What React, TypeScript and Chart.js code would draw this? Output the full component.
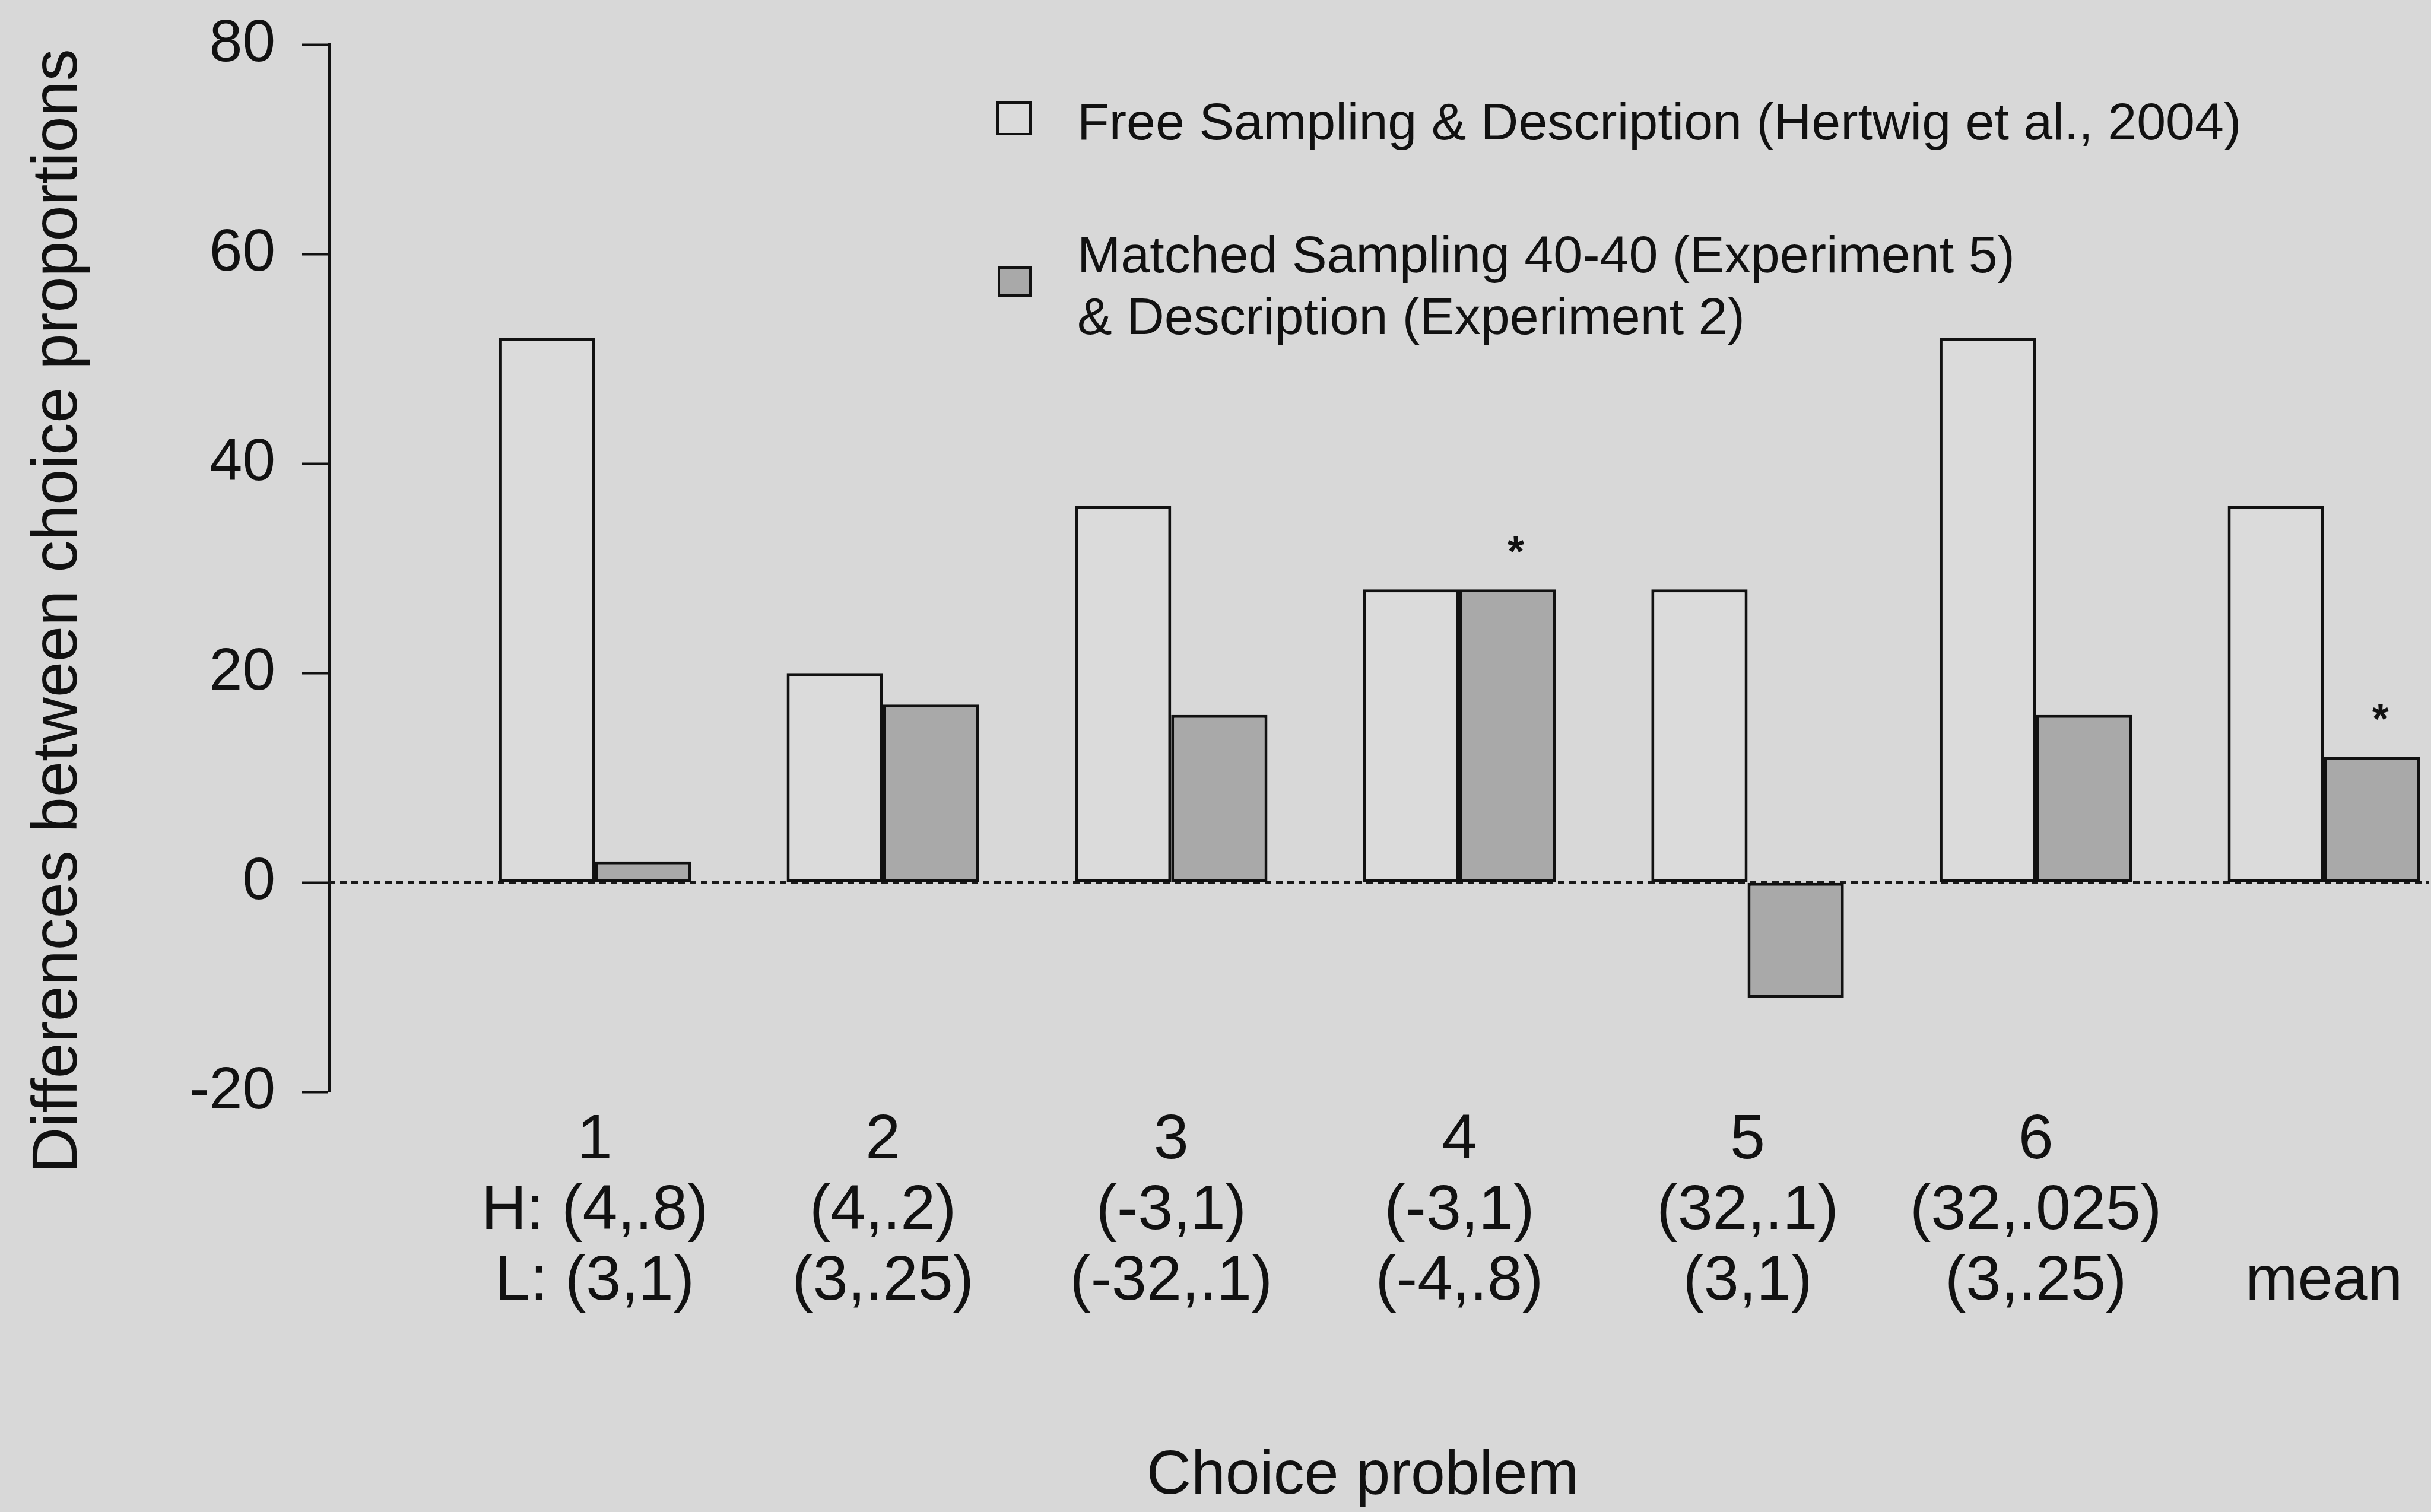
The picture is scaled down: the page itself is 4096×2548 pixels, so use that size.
import React, { useEffect, useRef } from 'react';
import { Chart, registerables } from 'chart.js';

Chart.register(...registerables);

// ---- data ----
const problemNumbers = ['1', '2', '3', '4', '5', '6', ''];
const optionH = ['H: (4,.8)', '(4,.2)', '(-3,1)', '(-3,1)', '(32,.1)', '(32,.025)', ''];
const optionL = ['L: (3,1)', '(3,.25)', '(-32,.1)', '(-4,.8)', '(3,1)', '(3,.25)', 'mean'];
const freeSampling = [52, 20, 36, 28, 28, 52, 36];
const matchedSampling = [2, 17, 16, 28, -11, 16, 12];
const significant = [false, false, false, true, false, false, true];
const yTickValues = [-20, 0, 20, 40, 60, 80];
const legendFree = ['Free Sampling & Description (Hertwig et al., 2004)'];
const legendMatched = ['Matched Sampling 40-40 (Experiment 5)', '& Description (Experiment 2)'];
const xTitle = 'Choice problem';
const yTitle = 'Differences between choice proportions';

// ---- styles ----
const W = 4096;
const H = 2548;
const BG = '#d8d8d8';
const WHITE_BAR = '#dbdbdb';
const GREY_BAR = '#a9a9a9';
const INK = '#111111';
const FONT = '"Liberation Sans", Arial, Helvetica, sans-serif';

const bgPlugin = {
  id: 'bgPlugin',
  beforeDraw(chart: any) {
    const { ctx, width, height } = chart;
    ctx.save();
    ctx.fillStyle = BG;
    ctx.fillRect(0, 0, width, height);
    ctx.restore();
  },
};

const zeroLinePlugin = {
  id: 'zeroLinePlugin',
  beforeDatasetsDraw(chart: any) {
    const { ctx, chartArea, scales } = chart;
    const y = scales.y.getPixelForValue(0);
    ctx.save();
    ctx.strokeStyle = '#1a1a1a';
    ctx.lineWidth = 5;
    ctx.setLineDash([11, 8]);
    ctx.beginPath();
    ctx.moveTo(chartArea.left, y);
    ctx.lineTo(chartArea.right, y);
    ctx.stroke();
    ctx.restore();
  },
};

const annotationsPlugin = {
  id: 'annotationsPlugin',
  afterDatasetsDraw(chart: any) {
    const { ctx } = chart;
    const meta = chart.getDatasetMeta(1);
    ctx.save();
    ctx.fillStyle = INK;
    ctx.font = `bold 72px ${FONT}`;
    ctx.textAlign = 'center';
    ctx.textBaseline = 'alphabetic';
    significant.forEach((sig, i) => {
      if (!sig) return;
      const el = meta.data[i];
      ctx.fillText('*', el.x + 14, el.y - 81 + 42);
    });
    ctx.restore();
  },
  afterDraw(chart: any) {
    const { ctx, chartArea } = chart;
    ctx.save();
    ctx.fillStyle = INK;
    // y title
    ctx.save();
    ctx.translate(129, (chartArea.top + chartArea.bottom) / 2 + 72);
    ctx.rotate(-Math.PI / 2);
    ctx.font = `108px ${FONT}`;
    ctx.textAlign = 'center';
    ctx.textBaseline = 'alphabetic';
    ctx.fillText(yTitle, 0, 0);
    ctx.restore();
    // x title
    ctx.font = `104px ${FONT}`;
    ctx.textAlign = 'center';
    ctx.textBaseline = 'alphabetic';
    ctx.fillText(xTitle, 2296, 2517);
    // legend
    ctx.lineWidth = 4;
    ctx.strokeStyle = INK;
    ctx.fillStyle = WHITE_BAR;
    ctx.fillRect(1681, 173, 55, 53);
    ctx.strokeRect(1681, 173, 55, 53);
    ctx.fillStyle = GREY_BAR;
    ctx.fillRect(1683, 451, 53, 47);
    ctx.strokeRect(1683, 451, 53, 47);
    ctx.fillStyle = INK;
    ctx.font = `88px ${FONT}`;
    ctx.textAlign = 'left';
    legendFree.forEach((t, i) => ctx.fillText(t, 1815, 235 + i * 104));
    legendMatched.forEach((t, i) => ctx.fillText(t, 1815, 459 + i * 104));
    ctx.restore();
  },
};

export default function App() {
  const ref = useRef<HTMLCanvasElement | null>(null);

  useEffect(() => {
    if (!ref.current) return;
    Chart.defaults.font.family = FONT;
    Chart.defaults.color = INK;
    const chart = new Chart(ref.current, {
      type: 'bar',
      data: {
        datasets: [
          {
            label: legendFree.join(' '),
            data: freeSampling.map((v, i) => ({ x: i + 1, y: v })),
            backgroundColor: WHITE_BAR,
            borderColor: INK,
            borderWidth: 5,
            borderSkipped: false,
            categoryPercentage: 0.668,
            barPercentage: 1,
          },
          {
            label: legendMatched.join(' '),
            data: matchedSampling.map((v, i) => ({ x: i + 1, y: v })),
            backgroundColor: GREY_BAR,
            borderColor: INK,
            borderWidth: 5,
            borderSkipped: false,
            categoryPercentage: 0.668,
            barPercentage: 1,
          },
        ],
      },
      options: {
        responsive: false,
        animation: false,
        devicePixelRatio: 1,
        layout: { padding: { top: 75.7, right: 4, bottom: 0, left: 0 } },
        plugins: {
          legend: { display: false },
          tooltip: { enabled: false },
          title: { display: false },
        },
        scales: {
          x: {
            type: 'linear',
            min: 0.0772,
            max: 7.363,
            offset: false,
            grid: { display: false, drawTicks: false, offset: false },
            border: { display: false },
            afterBuildTicks: (axis: any) => {
              axis.ticks = problemNumbers.map((_, i) => ({ value: i + 1 }));
            },
            afterFit: (axis: any) => {
              axis.height = 708;
              axis.paddingLeft = 0;
              axis.paddingRight = 0;
            },
            ticks: {
              autoSkip: false,
              maxRotation: 0,
              minRotation: 0,
              padding: 23,
              color: INK,
              font: { size: 106, lineHeight: 1.123 },
              callback: (value: any) => {
                const i = Math.round(Number(value)) - 1;
                return [problemNumbers[i], optionH[i], optionL[i]];
              },
            },
          },
          y: {
            type: 'linear',
            min: -20,
            max: 80,
            afterBuildTicks: (axis: any) => {
              axis.ticks = yTickValues.map((v) => ({ value: v }));
            },
            afterFit: (axis: any) => {
              axis.width = 554;
              axis.paddingTop = 0;
              axis.paddingBottom = 0;
            },
            grid: {
              display: true,
              drawOnChartArea: false,
              drawTicks: true,
              tickLength: 46,
              tickWidth: 4,
              tickColor: INK,
            },
            border: { display: true, color: INK, width: 5 },
            ticks: {
              padding: 44,
              color: INK,
              font: { size: 100 },
            },
          },
        },
      },
      plugins: [bgPlugin, zeroLinePlugin, annotationsPlugin],
    } as any);
    return () => chart.destroy();
  }, []);

  return (
    <div style={{ position: 'absolute', left: 0, top: 0, width: W, height: H, background: BG }}>
      <canvas ref={ref} width={W} height={H} style={{ display: 'block', width: W, height: H }} />
    </div>
  );
}
